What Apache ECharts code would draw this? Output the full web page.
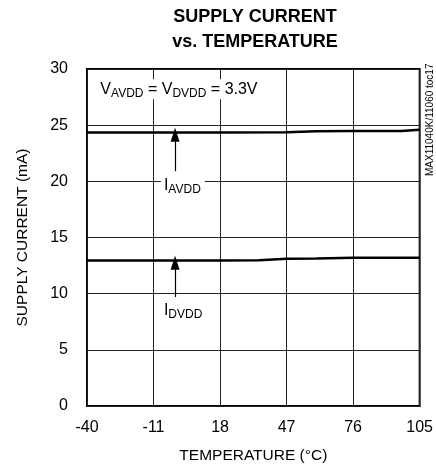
<!DOCTYPE html>
<html><head><meta charset="utf-8">
<script src="https://cdn.jsdelivr.net/npm/echarts@6/dist/echarts.min.js"></script>
<style>html,body{margin:0;padding:0;background:#fff}#c{width:436px;height:472px}</style>
</head><body><div id="c"></div>
<script>
const FONT = '"Liberation Sans",Arial,sans-serif';
const xTicks = [-40, -11, 18, 47, 76, 105];
const yTicks = [0, 5, 10, 15, 20, 25, 30];
const tempAVDD = [-40, -11, 18, 47, 60, 76, 97, 105];
const iAVDD    = [24.35, 24.35, 24.35, 24.36, 24.45, 24.47, 24.48, 24.6];
const tempDVDD = [-40, -11, 18, 35, 47, 60, 76, 105];
const iDVDD    = [12.95, 12.95, 12.95, 12.97, 13.1, 13.13, 13.2, 13.2];
const arrowAVDD = [[-1.6, 20.9], [-1.6, 24.15]];
const arrowDVDD = [[-1.6, 9.7], [-1.6, 12.75]];
const labelAVDD = [-8, 19.65];
const labelDVDD = [-8, 8.5];
const labelCond = [-35.7, 28.2];

const chart = echarts.init(document.getElementById('c'));
const rich = {
  n: {fontSize: 16, fontFamily: FONT, color: '#000', lineHeight: 20, verticalAlign: 'middle'},
  s: {fontSize: 12, fontFamily: FONT, color: '#000', lineHeight: 20, verticalAlign: 'bottom'}
};
function ann(pos, text) {
  return {
    coord: pos, symbol: 'circle', symbolSize: 1,
    itemStyle: {color: 'rgba(0,0,0,0)'},
    label: {show: true, position: 'right', distance: 0, formatter: text, rich: rich,
      backgroundColor: '#fff', padding: [0, 4, 0, 3]}
  };
}
chart.setOption({
  animation: false,
  backgroundColor: '#fff',
  title: {
    text: 'SUPPLY CURRENT\nvs. TEMPERATURE', left: 250, top: 0, textAlign: 'center',
    textStyle: {fontFamily: FONT, fontWeight: 'bold', fontSize: 18, lineHeight: 25, color: '#000'}
  },
  grid: {left: 87, right: 12, top: 69, bottom: 66, show: true, borderColor: '#000', borderWidth: 2},
  xAxis: {
    type: 'value', min: -40, max: 105, interval: 29,
    axisLine: {show: false}, axisTick: {show: false},
    axisLabel: {color: '#000', fontFamily: FONT, fontSize: 16, margin: 14,
      formatter: v => xTicks.includes(v) ? String(v) : ''},
    splitLine: {show: true, lineStyle: {color: '#222', width: 1}},
    name: 'TEMPERATURE (°C)', nameLocation: 'middle', nameGap: 42,
    nameTextStyle: {color: '#000', fontFamily: FONT, fontSize: 15.5}
  },
  yAxis: {
    type: 'value', min: 0, max: 30, interval: 5,
    axisLine: {show: false}, axisTick: {show: false},
    axisLabel: {color: '#000', fontFamily: FONT, fontSize: 16, margin: 19,
      formatter: v => yTicks.includes(v) ? String(v) : ''},
    splitLine: {show: true, lineStyle: {color: '#222', width: 1}},
    name: 'SUPPLY CURRENT (mA)', nameLocation: 'middle', nameGap: 56, nameRotate: 90,
    nameTextStyle: {color: '#000', fontFamily: FONT, fontSize: 15.5}
  },
  series: [
    {
      name: 'IAVDD', type: 'line', showSymbol: false, symbol: 'none',
      data: tempAVDD.map((t, i) => [t, iAVDD[i]]),
      lineStyle: {color: '#000', width: 2.5},
      markLine: {
        silent: true, symbol: ['none', 'triangle'], symbolSize: [9, 14],
        lineStyle: {color: '#000', width: 1.2, type: 'solid'}, label: {show: false},
        data: [[{coord: arrowAVDD[0]}, {coord: arrowAVDD[1]}]]
      },
      markPoint: {
        silent: true,
        data: [ann(labelAVDD, '{n|I}{s|AVDD}'), ann(labelCond, '{n|V}{s|AVDD}{n| = V}{s|DVDD}{n| = 3.3V}')]
      }
    },
    {
      name: 'IDVDD', type: 'line', showSymbol: false, symbol: 'none',
      data: tempDVDD.map((t, i) => [t, iDVDD[i]]),
      lineStyle: {color: '#000', width: 2.5},
      markLine: {
        silent: true, symbol: ['none', 'triangle'], symbolSize: [9, 14],
        lineStyle: {color: '#000', width: 1.2, type: 'solid'}, label: {show: false},
        data: [[{coord: arrowDVDD[0]}, {coord: arrowDVDD[1]}]]
      },
      markPoint: {
        silent: true,
        data: [ann(labelDVDD, '{n|I}{s|DVDD}')]
      }
    }
  ],
  graphic: [{
    type: 'text', x: 425, y: 176, rotation: Math.PI / 2,
    style: {text: 'MAX11040K/11060 toc17', fontSize: 10, fontFamily: FONT, fill: '#000'}
  }]
});
</script></body></html>
